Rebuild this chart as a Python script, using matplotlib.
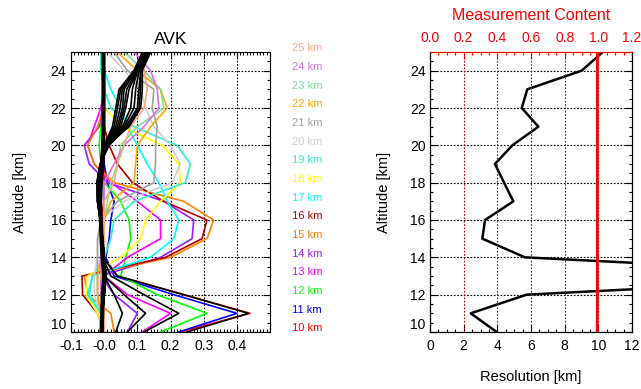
import matplotlib
matplotlib.use("Agg")
import matplotlib.pyplot as plt
import matplotlib.transforms as mtransforms
from matplotlib.ticker import MultipleLocator

plt.rcParams['font.family'] = ['Liberation Sans', 'DejaVu Sans']

# retrieval grid
alt = [10, 11, 12, 13, 14, 15, 16, 17, 18, 19, 20, 21, 22, 23, 24, 25]

# averaging kernel rows, one per nominal altitude (values on the alt grid)
avk_10 = [0.23, 0.44, 0.24, 0.04, 0.00, -0.01, -0.01, 0.00, 0.00, 0.00, 0.00, 0.00, 0.00, 0.00, 0.00, 0.00]
avk_11 = [0.225, 0.40, 0.21, 0.03, 0.005, 0.015, 0.02, 0.03, 0.01, 0.00, -0.005, -0.005, 0.00, 0.00, 0.00, 0.00]
avk_12 = [0.17, 0.31, 0.16, 0.05, 0.065, 0.08, 0.075, 0.05, 0.00, -0.01, -0.015, -0.01, 0.00, 0.00, 0.00, 0.00]
avk_13 = [0.115, 0.20, 0.07, 0.00, 0.07, 0.17, 0.17, 0.10, 0.02, -0.03, -0.05, -0.03, -0.01, 0.00, 0.00, 0.00]
avk_14 = [0.07, 0.10, 0.03, -0.01, 0.17, 0.265, 0.27, 0.18, 0.01, -0.045, -0.06, -0.015, -0.005, 0.00, 0.00, 0.00]
avk_15 = [0.03, 0.02, -0.05, -0.06, 0.20, 0.31, 0.33, 0.24, 0.03, -0.03, -0.05, -0.02, 0.00, 0.00, 0.00, 0.00]
avk_16 = [0.00, -0.02, -0.065, -0.067, 0.185, 0.295, 0.31, 0.18, 0.085, 0.04, 0.015, 0.00, 0.00, 0.00, 0.00, 0.00]
avk_17 = [0.00, -0.01, -0.045, -0.035, 0.14, 0.21, 0.225, 0.19, 0.165, 0.13, 0.10, 0.07, 0.05, 0.02, 0.00, -0.01]
avk_18 = [0.00, -0.02, -0.055, -0.05, 0.05, 0.11, 0.125, 0.17, 0.23, 0.225, 0.175, 0.055, 0.00, -0.005, 0.00, 0.00]
avk_19 = [-0.01, -0.01, -0.05, -0.035, 0.00, 0.02, 0.03, 0.09, 0.245, 0.26, 0.22, 0.09, 0.02, 0.00, -0.01, -0.01]
avk_20 = [0.00, -0.01, -0.03, -0.03, -0.02, -0.02, -0.01, 0.06, 0.205, 0.23, 0.20, 0.15, 0.125, 0.11, 0.06, 0.01]
avk_21 = [-0.005, -0.01, -0.02, -0.02, -0.02, -0.02, -0.01, 0.04, 0.15, 0.155, 0.155, 0.16, 0.145, 0.15, 0.07, 0.03]
avk_22 = [0.00, -0.01, -0.02, -0.02, -0.01, -0.01, 0.00, 0.02, 0.09, 0.095, 0.10, 0.14, 0.19, 0.17, 0.10, 0.04]
avk_23 = [0.00, 0.00, -0.01, -0.01, -0.01, 0.00, 0.00, 0.01, 0.02, 0.04, 0.05, 0.10, 0.18, 0.17, 0.12, 0.06]
avk_24 = [0.00, 0.00, -0.01, -0.01, -0.01, 0.00, 0.00, 0.00, 0.00, 0.03, 0.06, 0.12, 0.165, 0.16, 0.14, 0.09]
avk_25 = [0.00, 0.00, 0.00, -0.01, -0.005, 0.00, 0.00, 0.00, 0.03, 0.04, 0.06, 0.08, 0.12, 0.13, 0.12, 0.11]

avk_rows = [avk_10, avk_11, avk_12, avk_13, avk_14, avk_15, avk_16, avk_17,
            avk_18, avk_19, avk_20, avk_21, avk_22, avk_23, avk_24, avk_25]
avk_colors = ['#ff0000', '#0000ff', '#00ff00', '#ff00ff', '#9a1cff', '#ff7f00',
              '#b00000', '#00ffff', '#ffff00', '#30f0c8', '#d0d0d0', '#a0a0a0',
              '#ffa500', '#80dc98', '#dc70e0', '#ffa880']

# kernels of the unlabelled levels (drawn in black)
low_black = [
    [0.25, 0.435, 0.24, 0.04, -0.005, -0.008, -0.01, -0.015, -0.015, -0.01, -0.005, 0.00, 0.00, 0.00, 0.00, 0.00],
    [0.12, 0.225, 0.12, 0.02, -0.005, -0.008, -0.01, -0.015, -0.015, -0.01, -0.005, 0.00, 0.00, 0.00, 0.00, 0.00],
    [0.07, 0.125, 0.06, 0.00, -0.005, -0.008, -0.01, -0.015, -0.015, -0.01, -0.005, 0.00, 0.00, 0.00, 0.00, 0.00],
    [0.035, 0.055, 0.03, 0.00, -0.005, -0.008, -0.01, -0.015, -0.015, -0.01, -0.005, 0.00, 0.00, 0.00, 0.00, 0.00],
]
high_black = [
    [-0.005, -0.005, 0.00, 0.005, 0.00, -0.005, -0.01, -0.015, -0.015, -0.01, 0.000, 0.025, 0.035, 0.045, 0.090, 0.115],
    [-0.005, -0.005, 0.00, 0.005, 0.00, -0.005, -0.01, -0.015, -0.015, -0.01, 0.000, 0.030, 0.040, 0.050, 0.090, 0.120],
    [-0.005, -0.005, 0.00, 0.005, 0.00, -0.005, -0.01, -0.015, -0.018, -0.01, 0.000, 0.035, 0.048, 0.055, 0.092, 0.122],
    [-0.005, -0.005, 0.00, 0.005, 0.00, -0.005, -0.01, -0.015, -0.018, -0.01, 0.000, 0.040, 0.055, 0.060, 0.095, 0.125],
    [-0.005, -0.005, 0.00, 0.005, 0.00, -0.005, -0.01, -0.018, -0.018, -0.01, 0.005, 0.045, 0.060, 0.068, 0.098, 0.128],
    [-0.005, -0.005, 0.00, 0.005, 0.00, -0.005, -0.01, -0.018, -0.018, -0.01, 0.005, 0.050, 0.065, 0.075, 0.100, 0.130],
    [-0.005, -0.005, 0.00, 0.005, 0.00, -0.005, -0.012, -0.018, -0.02, -0.01, 0.005, 0.055, 0.080, 0.085, 0.100, 0.130],
    [-0.005, -0.005, 0.00, 0.005, 0.00, -0.005, -0.012, -0.02, -0.02, -0.01, 0.010, 0.060, 0.090, 0.095, 0.105, 0.135],
    [-0.005, -0.005, 0.00, 0.005, 0.00, -0.005, -0.012, -0.02, -0.02, -0.012, 0.010, 0.065, 0.100, 0.105, 0.110, 0.135],
    [-0.005, -0.005, 0.00, 0.005, 0.00, -0.005, -0.012, -0.02, -0.022, -0.012, 0.015, 0.070, 0.105, 0.110, 0.110, 0.140],
    [-0.005, -0.005, 0.00, 0.005, 0.00, -0.005, -0.012, -0.02, -0.022, -0.012, 0.010, 0.075, 0.110, 0.115, 0.115, 0.140],
]
near_zero = [-0.008, -0.006, -0.004, 0.00, -0.005, -0.008, -0.01, -0.012, -0.01, -0.005, -0.003, -0.002, -0.002, -0.002, -0.002, -0.002]

# resolution [km] and measurement content per level
resolution = [3.96, 2.42, 5.74, 27.5, 5.64, 3.11, 3.27, 4.95, 4.4, 3.86, 4.89, 6.44, 5.45, 5.78, 9.01, 10.26]
meas_content = [0.993, 0.994, 0.994, 0.994, 0.994, 0.994, 0.994, 0.994,
                 0.994, 0.994, 0.994, 0.994, 0.994, 0.994, 0.994, 0.995]

grid_kw = dict(linestyle=(0, (1.5, 1.5)), linewidth=0.8)

fig = plt.figure(figsize=(6.41, 3.89), dpi=100)
ax = fig.add_axes([71 / 641, 57 / 389, 199 / 641, 280 / 389])
ax2 = fig.add_axes([430 / 641, 57 / 389, 202 / 641, 280 / 389])

# ---- AVK panel
for row, c in zip(avk_rows, avk_colors):
    ax.plot(row, alt, color=c, lw=1.2)
for row in high_black + low_black:
    ax.plot(row, alt, color='black', lw=1.2)
ax.plot(near_zero, alt, color='black', lw=3)

ax.set_xlim(-0.1, 0.5)
ax.set_ylim(10, 25)
ax.set_xticks([-0.1, 0.0, 0.1, 0.2, 0.3, 0.4, 0.5], ['-0.1', '-0.0', '0.1', '0.2', '0.3', '0.4', ''])
ax.set_yticks([10, 12, 14, 16, 18, 20, 22, 24], ['10', '12', '14', '16', '18', '20', '22', '24'])
ax.xaxis.set_minor_locator(MultipleLocator(0.01))
ax.yaxis.set_minor_locator(MultipleLocator(0.5))
ax.tick_params(which='both', direction='in', top=True, right=True, labelsize=10)
ax.tick_params(which='major', length=5, width=0.8)
ax.tick_params(which='minor', length=2.5, width=0.8)
ax.tick_params(axis='x', pad=5)
ax.grid(True, color='black', **grid_kw)
ax.set_title('AVK', fontsize=12.5, pad=6)
ax.set_ylabel('Altitude [km]', fontsize=10.5)
ax.yaxis.set_label_coords(-0.221, 0.5)
ax.yaxis.get_major_ticks()[0].label1.set_va('bottom')

lab_tr = mtransforms.blended_transform_factory(ax.transAxes, ax.transData)
for a, c in zip(alt, avk_colors):
    ax.text(1.11, a + 0.2, f'{a} km', transform=lab_tr, color=c, fontsize=8,
            ha='left', va='center', clip_on=False)

# ---- resolution / measurement content panel
ax2.plot(resolution, alt, color='black', lw=1.8)
ax2.set_xlim(0, 12)
ax2.set_ylim(10, 25)
ax2.set_xticks([0, 2, 4, 6, 8, 10, 12])
ax2.set_yticks([10, 12, 14, 16, 18, 20, 22, 24], ['10', '12', '14', '16', '18', '20', '22', '24'])
ax2.xaxis.set_minor_locator(MultipleLocator(0.5))
ax2.yaxis.set_minor_locator(MultipleLocator(0.5))
ax2.tick_params(which='both', direction='in', right=True, top=False, labelsize=10)
ax2.tick_params(which='major', length=5, width=0.8)
ax2.tick_params(which='minor', length=2.5, width=0.8)
ax2.tick_params(axis='x', pad=5)
ax2.tick_params(axis='y', pad=3)
ax2.grid(True, axis='y', color='black', **grid_kw)
ax2.set_xlabel('Resolution [km]', fontsize=10.5)
ax2.xaxis.set_label_coords(0.5, -0.136)
ax2.set_ylabel('Altitude [km]', fontsize=10.5)
ax2.yaxis.set_label_coords(-0.193, 0.5)
ax2.yaxis.get_major_ticks()[0].label1.set_va('bottom')
ax2.spines['top'].set_color('red')

axt = ax2.twiny()
axt.plot(meas_content, alt, color='red', lw=2)
axt.set_xlim(0, 1.2)
axt.set_xticks([0.0, 0.2, 0.4, 0.6, 0.8, 1.0, 1.2])
axt.xaxis.set_minor_locator(MultipleLocator(0.05))
axt.tick_params(axis='x', which='both', direction='in', colors='red', labelsize=10, pad=5)
axt.tick_params(axis='x', which='major', length=5, width=0.8)
axt.tick_params(axis='x', which='minor', length=2.5, width=0.8)
axt.grid(True, axis='x', color='#b00000', **grid_kw)
axt.spines['top'].set_color('red')
axt.text(0.5, 1.114, 'Measurement Content', transform=axt.transAxes, color='red',
         fontsize=11.5, ha='center', va='baseline')

fig.savefig('out.png', dpi=100)
